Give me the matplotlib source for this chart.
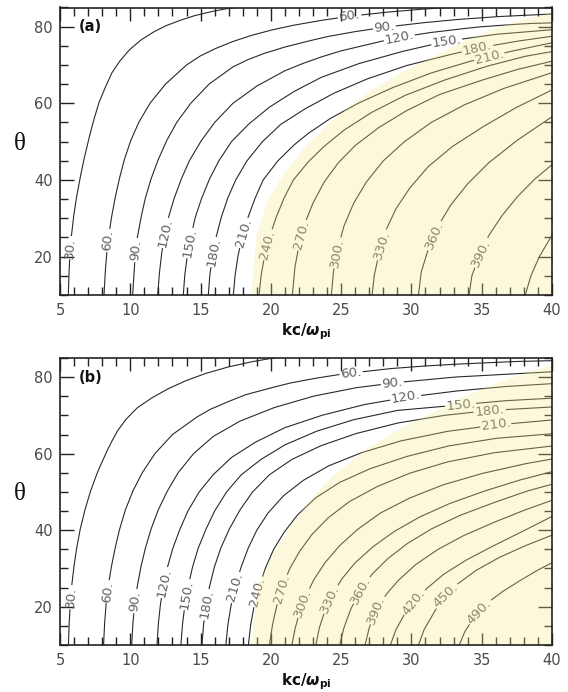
import numpy as np
import matplotlib
matplotlib.use("Agg")
import matplotlib.pyplot as plt
from matplotlib.textpath import TextPath
from matplotlib.font_manager import FontProperties
from matplotlib.ticker import MultipleLocator

# contour levels, and each contour line as (k, theta) points
a_levels = [30, 60, 90, 120, 150, 180, 210, 240, 270, 300, 330, 360, 390, 420]
a_k = [
    [5.59, 5.63, 5.7, 5.8, 5.95, 6.15, 6.4, 6.68, 7.0, 7.35, 7.75, 8.2, 8.7, 9.25, 9.95, 10.75, 11.6, 12.5, 13.5, 14.5, 15.6, 16.7, 17.9],
    [8.13, 8.2, 8.3, 8.45, 8.65, 8.9, 9.2, 9.55, 10.0, 10.6, 11.4, 12.5, 14.0, 15.0, 16.0, 17.2, 18.5, 19.9, 21.5, 23.5, 25.6, 28.0, 30.5, 33.0],
    [10.17, 10.25, 10.35, 10.5, 10.75, 11.05, 11.45, 11.95, 12.55, 13.3, 14.3, 15.6, 17.3, 18.3, 19.5, 20.9, 22.4, 24.0, 25.8, 28.0, 30.5, 33.0, 36.0, 40.0],
    [11.95, 12.05, 12.2, 12.4, 12.7, 13.1, 13.6, 14.2, 15.0, 16.0, 17.3, 19.0, 21.0, 22.2, 23.5, 24.9, 26.5, 28.0, 29.5, 31.2, 33.0, 34.7, 36.5, 38.2, 40.0],
    [13.77, 13.87, 14.05, 14.3, 14.6, 15.05, 15.6, 16.3, 17.2, 18.4, 19.9, 21.6, 23.6, 26.2, 29.2, 32.5, 36.0, 40.0],
    [15.55, 15.65, 15.85, 16.1, 16.45, 16.9, 17.5, 18.3, 19.4, 20.7, 22.4, 24.4, 26.8, 29.6, 32.5, 35.0, 37.5, 40.0],
    [17.33, 17.45, 17.65, 17.95, 18.35, 18.85, 19.45, 20.5, 21.6, 22.6, 24.2, 26.2, 28.6, 31.3, 34.0, 37.0, 40.0],
    [19.16, 19.3, 19.55, 19.9, 20.35, 20.9, 21.6, 22.6, 23.7, 25.2, 27.1, 29.5, 32.3, 35.3, 38.0, 40.0],
    [21.53, 21.7, 22.0, 22.4, 23.0, 23.8, 24.8, 26.0, 27.6, 29.6, 32.0, 34.8, 37.5, 40.0],
    [24.3, 24.45, 24.75, 25.2, 25.9, 26.8, 28.0, 29.5, 31.4, 33.7, 36.5, 40.0],
    [27.2, 27.35, 27.7, 28.2, 28.9, 29.9, 31.2, 32.9, 35.0, 37.4, 40.0],
    [30.5, 30.7, 31.2, 31.9, 32.8, 34.0, 35.5, 37.5, 40.0],
    [34.1, 34.3, 34.8, 35.5, 36.4, 37.5, 38.7, 40.0],
    [38.1, 38.5, 39.1, 40.0],
]
a_th = [
    [10, 15, 20, 25, 30, 35, 40, 45, 50, 55, 60, 64, 68, 71, 74, 76.5, 78.5, 80.2, 81.6, 82.8, 83.8, 84.6, 85.2],
    [10, 15, 20, 25, 30, 35, 40, 45, 50, 55, 60, 65, 70, 72.4, 74.2, 76, 77.6, 79, 80.3, 81.6, 82.7, 83.7, 84.5, 85.1],
    [10, 15, 20, 25, 30, 35, 40, 45, 50, 55, 60, 65, 69.5, 71.3, 73, 74.6, 76, 77.4, 78.6, 79.8, 80.9, 81.8, 82.6, 83.3],
    [10, 15, 20, 25, 30, 35, 40, 45, 50, 55, 60, 64.5, 68.5, 70.3, 72, 73.6, 75, 76.3, 77.4, 78.4, 79.2, 79.9, 80.4, 80.8, 81.0],
    [10, 15, 20, 25, 30, 35, 40, 45, 50, 54.5, 59, 63, 66.8, 70.3, 73.4, 76.2, 78, 79.2],
    [10, 15, 20, 25, 30, 35, 40, 45, 50, 54.5, 58.5, 62.5, 66.3, 69.8, 72.5, 74.6, 76.2, 77.5],
    [10, 15, 20, 25, 30, 35, 40, 45, 49, 52, 56, 60, 64, 67.8, 70.8, 73.5, 75.8],
    [10, 15, 20, 25, 30, 35, 40, 44.5, 48.5, 53, 57.5, 62, 66, 69.6, 72.2, 73.5],
    [10, 17, 23, 28.5, 34, 39.5, 44.5, 49, 53.5, 58, 62.3, 65.8, 68.8, 71.0],
    [10, 16, 22, 28, 34, 39.5, 45, 50, 55, 59.5, 63.8, 68.0],
    [10, 15, 21, 27, 32.5, 38, 43.5, 48.7, 53.7, 58.8, 63.5],
    [10, 16, 22, 28, 33.5, 39, 44.5, 50.3, 56.5],
    [10, 15, 20, 25.5, 30.5, 35.5, 40, 44],
    [10, 15, 20, 25.6],
]
a_fill_k = [18.6, 19.0, 19.8, 21.0, 22.4, 24.4, 26.8, 29.2, 31.6, 33.9, 36.3, 38.7, 40.0]
a_fill_th = [10, 26.1, 34.8, 42.0, 48.5, 55.7, 62.6, 67.8, 72.2, 76.5, 80.0, 82.6, 83.5]

b_levels = [30, 60, 90, 120, 150, 180, 210, 240, 270, 300, 330, 360, 390, 420, 450, 490]
b_k = [
    [5.6, 5.64, 5.72, 5.82, 5.97, 6.17, 6.42, 6.75, 7.15, 7.65, 8.25, 8.65, 9.1, 9.7, 10.5, 11.5, 12.6, 13.9, 15.3, 16.9, 18.6, 20.5],
    [8.1, 8.16, 8.26, 8.42, 8.63, 8.9, 9.22, 9.62, 10.15, 10.85, 11.75, 13.0, 14.7, 15.7, 16.9, 18.2, 19.8, 21.3, 23.0, 24.7, 26.5, 28.4, 30.5, 32.7, 35.0, 37.5, 40.0],
    [10.1, 10.17, 10.3, 10.48, 10.73, 11.05, 11.45, 11.95, 12.6, 13.4, 14.5, 15.9, 17.8, 20.2, 23.0, 26.0, 29.0, 33.0, 40.0],
    [11.9, 11.98, 12.12, 12.33, 12.62, 13.0, 13.5, 14.1, 14.9, 15.9, 17.2, 18.9, 21.0, 23.6, 26.6, 29.6, 33.0, 36.5, 40.0],
    [13.6, 13.7, 13.87, 14.1, 14.4, 14.8, 15.35, 16.0, 16.85, 17.9, 19.3, 21.0, 23.2, 25.8, 29.0, 33.0, 36.5, 40.0],
    [15.1, 15.2, 15.38, 15.62, 15.95, 16.4, 17.0, 17.75, 18.7, 19.9, 21.5, 23.5, 26.0, 29.0, 32.3, 35.6, 40.0],
    [16.8, 16.93, 17.15, 17.45, 17.85, 18.35, 19.0, 19.8, 20.9, 22.3, 24.1, 26.4, 29.2, 32.5, 36.0, 40.0],
    [18.4, 18.55, 18.8, 19.15, 19.6, 20.2, 20.95, 21.9, 23.2, 24.9, 27.0, 29.6, 32.6, 36.0, 40.0],
    [19.9, 20.1, 20.4, 20.8, 21.35, 22.05, 22.95, 24.1, 25.6, 27.5, 29.8, 32.5, 35.8, 40.0],
    [21.5, 21.7, 22.0, 22.45, 23.05, 23.85, 24.9, 26.2, 27.8, 29.8, 32.2, 35.0, 38.0, 40.0],
    [23.2, 23.45, 23.85, 24.4, 25.1, 26.0, 27.2, 28.7, 30.5, 32.6, 35.0, 37.6, 40.0],
    [24.9, 25.2, 25.7, 26.4, 27.2, 28.3, 29.7, 31.4, 33.4, 35.7, 38.2, 40.0],
    [26.7, 27.0, 27.5, 28.2, 29.1, 30.3, 31.8, 33.6, 35.7, 38.0, 40.0],
    [28.5, 28.9, 29.5, 30.2, 31.1, 32.3, 33.8, 35.6, 37.7, 40.0],
    [30.5, 30.9, 31.6, 32.3, 33.3, 34.6, 36.2, 38.0, 40.0],
    [33.4, 33.8, 34.5, 35.4, 36.5, 37.8, 39.0, 40.0],
]
b_th = [
    [10, 15, 20, 25, 30, 35, 40, 45, 50, 55, 60, 63, 66, 69, 72, 74.5, 76.8, 79, 80.9, 82.6, 84, 85.2],
    [10, 15, 20, 25, 30, 35, 40, 45, 50, 55, 60, 65, 69.5, 71.6, 73.5, 75.4, 77, 78.4, 79.6, 80.6, 81.4, 82.2, 82.8, 83.3, 83.7, 84.1, 84.3],
    [10, 15, 20, 25, 30, 35, 40, 45, 50, 55, 60, 64.5, 68.5, 72, 75, 77.2, 78.6, 80, 81.4],
    [10, 15, 20, 25, 30, 35, 40, 45, 50, 54.5, 59, 63, 66.8, 70, 72.8, 74.7, 76.3, 77.5, 78.3],
    [10, 15, 20, 25, 30, 35, 40, 45, 50, 54.5, 58.5, 62.3, 65.8, 68.8, 71.3, 72.6, 73.8, 74.5],
    [10, 15, 20, 25, 30, 35, 40, 45, 50, 54.5, 58.5, 62, 65.2, 68, 70, 71.3, 72.2],
    [10, 15, 20, 25, 30, 35, 40, 44.5, 49, 53, 56.8, 60.2, 63.3, 65.8, 67.5, 68.8],
    [10, 15, 20, 25, 30, 35, 39.5, 44, 48.5, 52.5, 56, 59.2, 62, 64, 65.2],
    [10, 15, 20, 25, 30, 34.5, 39, 43.3, 47.5, 51.3, 54.8, 57.8, 60.2, 62],
    [10, 14, 18, 22.5, 27, 31.5, 36, 40.3, 44.5, 48.3, 51.8, 54.8, 57.3, 58.6],
    [10, 14.5, 19, 23.5, 27.5, 31.5, 35.5, 39.5, 43.3, 46.8, 50, 53, 55.3],
    [10, 14.5, 19.5, 24.4, 28.5, 32.5, 36.5, 40.3, 43.8, 47, 50.2, 52],
    [10, 14.5, 19.2, 23.2, 27, 31, 34.8, 38.4, 41.8, 45.2, 47.8],
    [10, 14, 18, 21.3, 24.8, 28.5, 32, 35.5, 39.3, 43.6],
    [10, 14, 18.5, 22.5, 26, 29.5, 32.8, 35.8, 38.7],
    [10, 13.5, 17.5, 21, 24, 27, 29.6, 31.5],
]
b_fill_k = [18.6, 19.1, 20.2, 21.5, 22.6, 24.4, 26.8, 29.2, 31.6, 33.9, 36.3, 38.7, 40.0]
b_fill_th = [10, 25.6, 34.3, 41.5, 47.0, 54.2, 61.3, 66.5, 70.9, 75.2, 78.7, 81.8, 83.1]

# where the contour labels sit (snapped onto their line)
a_lab_lev = [30, 60, 90, 120, 150, 180, 210, 240, 270, 300, 330, 360, 390,
             60, 90, 120, 150, 180, 210]
a_lab_k = [5.78, 8.34, 10.34, 12.54, 14.18, 15.88, 18.09, 19.94, 22.2, 24.6, 27.9, 31.6, 34.95,
           25.56, 28.05, 29.1, 32.5, 34.7, 35.5]
a_lab_th = [22.3, 24.3, 21.7, 26.2, 23.6, 21.2, 26.2, 23.0, 25.6, 21.0, 23.0, 25.6, 21.0,
            83.0, 80.4, 78.3, 76.5, 74.4, 72.6]

b_lab_lev = [30, 60, 90, 120, 150, 180, 210, 240, 270, 300, 330, 360, 390, 420, 450, 490,
             60, 90, 120, 150, 180, 210]
b_lab_k = [5.78, 8.34, 10.34, 12.54, 14.1, 15.6, 17.66, 19.0, 21.0, 22.3, 24.26, 26.4, 27.46, 30.18, 32.3, 34.7,
           25.68, 28.64, 29.6, 33.5, 35.6, 36.0]
b_lab_th = [22.5, 23.9, 21.5, 26.2, 23.1, 20.5, 24.9, 23.9, 24.3, 21.0, 21.8, 24.4, 19.2, 21.3, 23.5, 19.1,
            81.4, 78.3, 74.7, 72.5, 70.1, 67.3]

# the shaded band is laid over the lines, so they show through it a little paler
SHADE = (0.96, 0.91, 0.54)
SHADE_ALPHA = 0.3
LINE = '#2a2a2a'
LAB_SIZE = 9.5


def snap(ax, ks, ths, k0, t0):
    pts = ax.transData.transform(np.column_stack([ks, ths]))
    q = ax.transData.transform((k0, t0))
    best = None
    for p0, p1 in zip(pts[:-1], pts[1:]):
        seg = p1 - p0
        u = np.clip(np.dot(q - p0, seg) / np.dot(seg, seg), 0, 1)
        c = p0 + u * seg
        d = np.hypot(*(q - c))
        if best is None or d < best[0]:
            best = (d, c, seg)
    _, c, seg = best
    ang = np.degrees(np.arctan2(seg[1], seg[0]))
    if ang > 90:
        ang -= 180
    elif ang < -90:
        ang += 180
    return c, ang


def draw_gapped(ax, ks, ths, cuts):
    # split the polyline where its own labels sit
    pts = ax.transData.transform(np.column_stack([ks, ths]))
    dense = [pts[0]]
    for p0, p1 in zip(pts[:-1], pts[1:]):
        n = max(int(np.hypot(*(p1 - p0))), 1)
        for j in range(1, n + 1):
            dense.append(p0 + (p1 - p0) * j / n)
    dense = np.array(dense)
    for c, r in cuts:
        dense[np.hypot(*(dense - c).T) < r] = np.nan
    xy = ax.transData.inverted().transform(dense)
    ax.plot(xy[:, 0], xy[:, 1], color=LINE, lw=0.8, zorder=1)


def draw_panel(ax, tag, levels, ks, ths, fill_k, fill_th, lab_lev, lab_k, lab_th):
    ax.set_xlim(5, 40)
    ax.set_ylim(10, 85)

    ax.fill(fill_k + [40], fill_th + [10], color=SHADE, alpha=SHADE_ALPHA, lw=0, zorder=2.4)

    prop = FontProperties(family='DejaVu Sans', size=LAB_SIZE)
    cuts = {lev: [] for lev in levels}
    for lev, k0, t0 in zip(lab_lev, lab_k, lab_th):
        i = levels.index(lev)
        c, ang = snap(ax, ks[i], ths[i], k0, t0)
        s = f'{lev}.'
        w = TextPath((0, 0), s, prop=prop).get_extents().width * fig.dpi / 72
        cuts[lev].append((c, w / 2 + 2.5))
        k, t = ax.transData.inverted().transform(c)
        ax.text(k, t, s, rotation=ang, rotation_mode='anchor',
                ha='center', va='center', fontsize=LAB_SIZE, color='#606060', zorder=2)

    for lev, k, t in zip(levels, ks, ths):
        draw_gapped(ax, k, t, cuts[lev])

    ax.text(6.35, 80, tag, ha='left', va='center', fontsize=10.5,
            fontweight='bold', color='#111111')

    ax.xaxis.set_major_locator(MultipleLocator(5))
    ax.xaxis.set_minor_locator(MultipleLocator(1))
    ax.yaxis.set_major_locator(MultipleLocator(20))
    ax.yaxis.set_minor_locator(MultipleLocator(5))
    ax.tick_params(which='both', direction='in', top=True, right=True,
                   width=1.0, color='#222222', labelcolor='#4a4a4a', labelsize=10.5)
    ax.tick_params(axis='y', which='major', length=10, pad=5)
    ax.tick_params(axis='x', which='major', length=9, pad=6)
    ax.tick_params(which='minor', length=5.5)
    for s in ax.spines.values():
        s.set_linewidth(1.2)
        s.set_color('#222222')

    ax.set_xlabel(r'$\mathbf{kc/}\boldsymbol{\omega}_{\mathbf{pi}}$', fontsize=11,
                  color='#111111', va='top')
    ax.xaxis.set_label_coords(0.5, -0.092)
    ax.set_ylabel('θ', rotation=0, fontsize=18, family='Liberation Serif',
                  color='#111111', va='center', ha='center')
    ax.yaxis.set_label_coords(-0.082, 0.525)


fig = plt.figure(figsize=(5.68, 6.92), dpi=100)
ax_a = fig.add_axes([60 / 568, 1 - 295 / 692, 492 / 568, 287.5 / 692])
ax_b = fig.add_axes([60 / 568, 1 - 645 / 692, 492 / 568, 287 / 692])

draw_panel(ax_a, '(a)', a_levels, a_k, a_th, a_fill_k, a_fill_th, a_lab_lev, a_lab_k, a_lab_th)
draw_panel(ax_b, '(b)', b_levels, b_k, b_th, b_fill_k, b_fill_th, b_lab_lev, b_lab_k, b_lab_th)

fig.savefig('out.png', dpi=100)
